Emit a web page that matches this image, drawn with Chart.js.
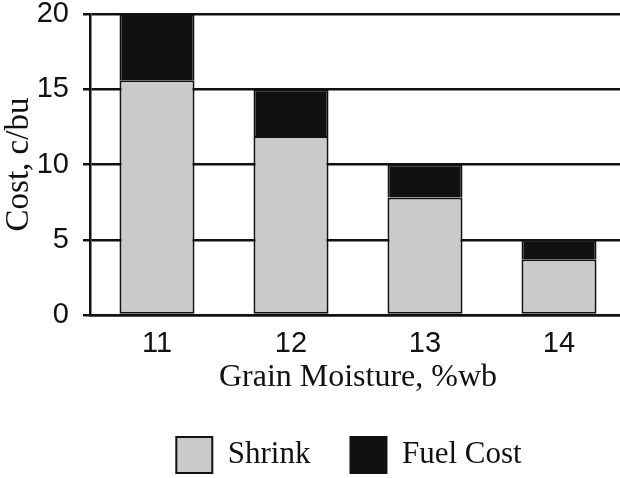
<!DOCTYPE html>
<html>
<head>
<meta charset="utf-8">
<script src="https://cdn.jsdelivr.net/npm/chart.js@4"></script>
<style>
  html, body { margin: 0; padding: 0; background: #fff; overflow: hidden; }
  #wrap { width: 640px; height: 478px; }
</style>
</head>
<body>
<div id="wrap"><canvas id="costChart" width="640" height="478"></canvas></div>
<script>
// grain moisture categories (%wb)
const moisture = ['11', '12', '13', '14'];
// cost components, c/bu
const shrink = [15.6, 11.9, 7.8, 3.7];
const fuelCost = [4.4, 3.1, 2.2, 1.3];

const sansFont = "'Liberation Sans', Arial, sans-serif";
const serifFont = "'Liberation Serif', 'Times New Roman', serif";
const ink = '#111';

// the legend in the original sits right of the page centre, under the plot
const legendShift = {
  id: 'legendShift',
  afterLayout(chart) {
    if (!chart.legend) return;
    chart.legend.left += 36;
    chart.legend.right += 36;
  }
};

new Chart(document.getElementById('costChart'), {
  type: 'bar',
  data: {
    labels: moisture,
    datasets: [
      { label: 'Shrink', data: shrink, backgroundColor: '#cacaca', borderColor: ink, borderWidth: 2, borderSkipped: false },
      { label: 'Fuel Cost', data: fuelCost, backgroundColor: ink, borderColor: ink, borderWidth: 2, borderSkipped: 'bottom' }
    ]
  },
  options: {
    responsive: false,
    animation: false,
    layout: { padding: { top: 14, right: 14, left: 0, bottom: -5 } },
    datasets: { bar: { barPercentage: 0.56, categoryPercentage: 1 } },
    plugins: {
      tooltip: { enabled: false },
      legend: {
        position: 'bottom',
        labels: {
          color: ink,
          boxWidth: 36, boxHeight: 36,
          padding: 40,
          font: { family: serifFont, size: 31 }
        }
      }
    },
    scales: {
      x: {
        stacked: true,
        grid: { display: false },
        border: { display: true, color: ink, width: 2.5 },
        ticks: { color: ink, padding: 4, font: { family: sansFont, size: 29 } },
        title: { display: true, text: 'Grain Moisture, %wb', color: ink, padding: 0, font: { family: serifFont, size: 32 } },
        afterFit: s => { s.height = 82; }
      },
      y: {
        stacked: true,
        min: 0, max: 20,
        ticks: {
          stepSize: 2.5, color: ink, padding: 14,
          font: { family: sansFont, size: 29 },
          callback: v => (v % 5 === 0 ? v : '')
        },
        grid: {
          color: c => (c.tick && c.tick.value % 5 === 0 ? ink : 'rgba(0,0,0,0)'),
          tickColor: ink,
          lineWidth: 2.5,
          tickLength: 7
        },
        border: { display: true, color: ink, width: 2.5 },
        title: { display: true, text: 'Cost, c/bu', color: ink, padding: 0, font: { family: serifFont, size: 33 } },
        afterFit: s => { s.width = 90; s.paddingTop = 0; s.paddingBottom = 0; }
      }
    }
  },
  plugins: [legendShift]
});
</script>
</body>
</html>
